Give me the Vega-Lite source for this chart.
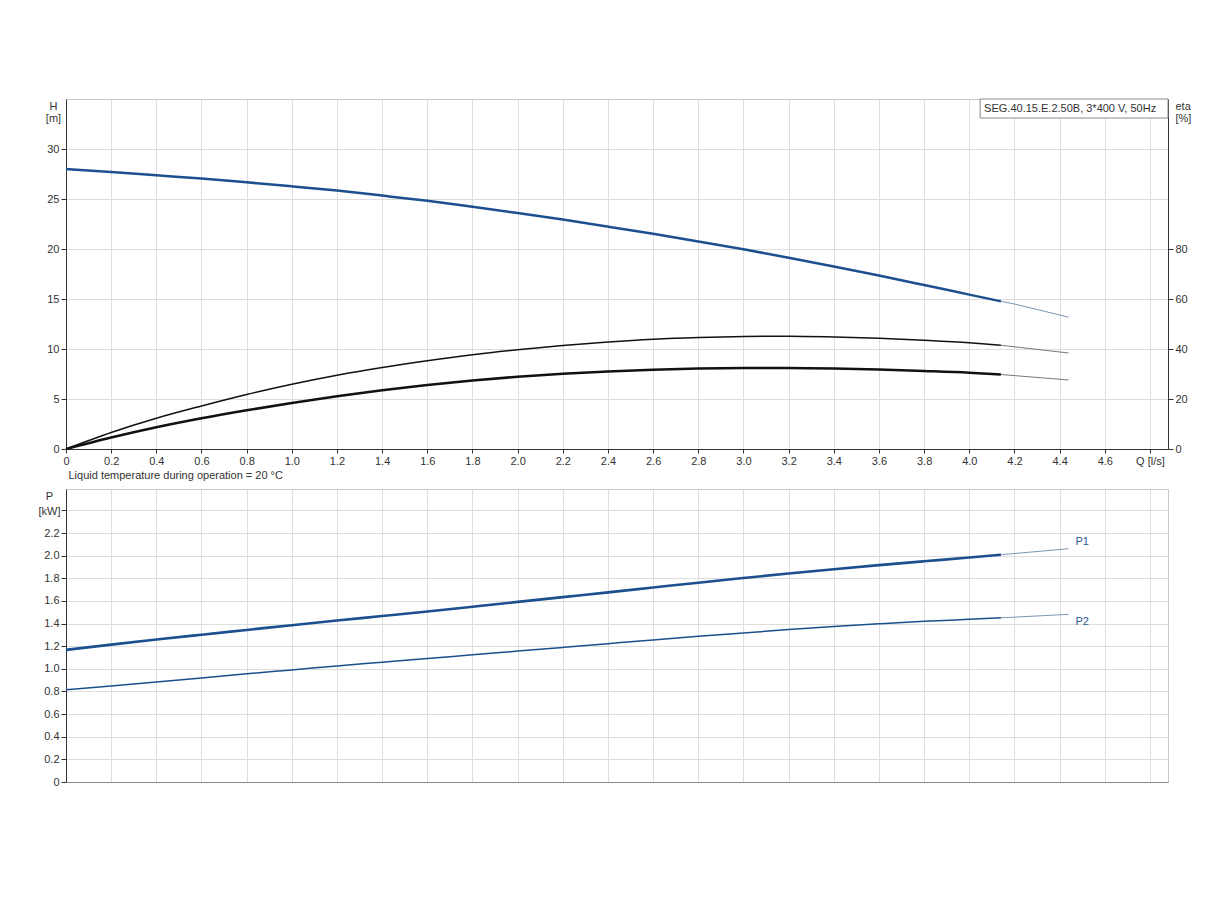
{
  "$schema": "https://vega.github.io/schema/vega-lite/v6.json",
  "background": "white",
  "padding": {"left": 37, "top": 98, "right": 10, "bottom": 10},
  "config": {
    "font": "Liberation Sans",
    "view": {"stroke": "#c8c8c8", "strokeWidth": 1},
    "axis": {
      "labelFont": "Liberation Sans", "labelFontSize": 11, "labelColor": "#333",
      "titleFont": "Liberation Sans", "titleFontSize": 11, "titleFontWeight": "normal", "titleColor": "#333",
      "gridColor": "#dedede", "gridWidth": 1, "tickColor": "#333", "domainColor": "#333",
      "tickSize": 5, "labelPadding": 2
    }
  },
  "datasets": {
    "head": [
      {"Q": 0, "H": 28.0, "part": "op"}, {"Q": 0.2, "H": 27.7, "part": "op"}, {"Q": 0.4, "H": 27.37, "part": "op"},
      {"Q": 0.6, "H": 27.04, "part": "op"}, {"Q": 0.8, "H": 26.67, "part": "op"}, {"Q": 1.0, "H": 26.27, "part": "op"},
      {"Q": 1.2, "H": 25.84, "part": "op"}, {"Q": 1.4, "H": 25.34, "part": "op"}, {"Q": 1.6, "H": 24.82, "part": "op"},
      {"Q": 1.8, "H": 24.22, "part": "op"}, {"Q": 2.0, "H": 23.6, "part": "op"}, {"Q": 2.2, "H": 22.94, "part": "op"},
      {"Q": 2.4, "H": 22.24, "part": "op"}, {"Q": 2.6, "H": 21.52, "part": "op"}, {"Q": 2.8, "H": 20.76, "part": "op"},
      {"Q": 3.0, "H": 19.97, "part": "op"}, {"Q": 3.2, "H": 19.13, "part": "op"}, {"Q": 3.4, "H": 18.26, "part": "op"},
      {"Q": 3.6, "H": 17.35, "part": "op"}, {"Q": 3.8, "H": 16.4, "part": "op"}, {"Q": 4.0, "H": 15.44, "part": "op"},
      {"Q": 4.14, "H": 14.77, "part": "op"},
      {"Q": 4.14, "H": 14.77, "part": "ext"}, {"Q": 4.2, "H": 14.5, "part": "ext"}, {"Q": 4.44, "H": 13.18, "part": "ext"}
    ],
    "eta": [
      {"Q": 0, "eta": 0, "curve": "eta1", "part": "op"}, {"Q": 0.2, "eta": 6.6, "curve": "eta1", "part": "op"},
      {"Q": 0.4, "eta": 12.3, "curve": "eta1", "part": "op"}, {"Q": 0.6, "eta": 17.2, "curve": "eta1", "part": "op"},
      {"Q": 0.8, "eta": 21.8, "curve": "eta1", "part": "op"}, {"Q": 1.0, "eta": 25.9, "curve": "eta1", "part": "op"},
      {"Q": 1.2, "eta": 29.5, "curve": "eta1", "part": "op"}, {"Q": 1.4, "eta": 32.6, "curve": "eta1", "part": "op"},
      {"Q": 1.6, "eta": 35.3, "curve": "eta1", "part": "op"}, {"Q": 1.8, "eta": 37.7, "curve": "eta1", "part": "op"},
      {"Q": 2.0, "eta": 39.7, "curve": "eta1", "part": "op"}, {"Q": 2.2, "eta": 41.4, "curve": "eta1", "part": "op"},
      {"Q": 2.4, "eta": 42.8, "curve": "eta1", "part": "op"}, {"Q": 2.6, "eta": 43.9, "curve": "eta1", "part": "op"},
      {"Q": 2.8, "eta": 44.6, "curve": "eta1", "part": "op"}, {"Q": 3.0, "eta": 45.0, "curve": "eta1", "part": "op"},
      {"Q": 3.2, "eta": 45.1, "curve": "eta1", "part": "op"}, {"Q": 3.4, "eta": 44.8, "curve": "eta1", "part": "op"},
      {"Q": 3.6, "eta": 44.3, "curve": "eta1", "part": "op"}, {"Q": 3.8, "eta": 43.5, "curve": "eta1", "part": "op"},
      {"Q": 4.0, "eta": 42.5, "curve": "eta1", "part": "op"}, {"Q": 4.14, "eta": 41.5, "curve": "eta1", "part": "op"},
      {"Q": 4.14, "eta": 41.5, "curve": "eta1", "part": "ext"}, {"Q": 4.44, "eta": 38.4, "curve": "eta1", "part": "ext"},
      {"Q": 0, "eta": 0, "curve": "eta2", "part": "op"}, {"Q": 0.2, "eta": 4.6, "curve": "eta2", "part": "op"},
      {"Q": 0.4, "eta": 8.7, "curve": "eta2", "part": "op"}, {"Q": 0.6, "eta": 12.3, "curve": "eta2", "part": "op"},
      {"Q": 0.8, "eta": 15.5, "curve": "eta2", "part": "op"}, {"Q": 1.0, "eta": 18.4, "curve": "eta2", "part": "op"},
      {"Q": 1.2, "eta": 21.1, "curve": "eta2", "part": "op"}, {"Q": 1.4, "eta": 23.5, "curve": "eta2", "part": "op"},
      {"Q": 1.6, "eta": 25.6, "curve": "eta2", "part": "op"}, {"Q": 1.8, "eta": 27.4, "curve": "eta2", "part": "op"},
      {"Q": 2.0, "eta": 28.9, "curve": "eta2", "part": "op"}, {"Q": 2.2, "eta": 30.1, "curve": "eta2", "part": "op"},
      {"Q": 2.4, "eta": 31.0, "curve": "eta2", "part": "op"}, {"Q": 2.6, "eta": 31.7, "curve": "eta2", "part": "op"},
      {"Q": 2.8, "eta": 32.2, "curve": "eta2", "part": "op"}, {"Q": 3.0, "eta": 32.4, "curve": "eta2", "part": "op"},
      {"Q": 3.2, "eta": 32.4, "curve": "eta2", "part": "op"}, {"Q": 3.4, "eta": 32.2, "curve": "eta2", "part": "op"},
      {"Q": 3.6, "eta": 31.8, "curve": "eta2", "part": "op"}, {"Q": 3.8, "eta": 31.2, "curve": "eta2", "part": "op"},
      {"Q": 4.0, "eta": 30.5, "curve": "eta2", "part": "op"}, {"Q": 4.14, "eta": 29.8, "curve": "eta2", "part": "op"},
      {"Q": 4.14, "eta": 29.8, "curve": "eta2", "part": "ext"}, {"Q": 4.44, "eta": 27.6, "curve": "eta2", "part": "ext"}
    ],
    "power": [
      {"Q": 0, "P": 1.168, "curve": "P1", "part": "op"}, {"Q": 0.2, "P": 1.214, "curve": "P1", "part": "op"},
      {"Q": 0.4, "P": 1.259, "curve": "P1", "part": "op"}, {"Q": 0.6, "P": 1.302, "curve": "P1", "part": "op"},
      {"Q": 0.8, "P": 1.344, "curve": "P1", "part": "op"}, {"Q": 1.0, "P": 1.386, "curve": "P1", "part": "op"},
      {"Q": 1.2, "P": 1.427, "curve": "P1", "part": "op"}, {"Q": 1.4, "P": 1.467, "curve": "P1", "part": "op"},
      {"Q": 1.6, "P": 1.507, "curve": "P1", "part": "op"}, {"Q": 1.8, "P": 1.549, "curve": "P1", "part": "op"},
      {"Q": 2.0, "P": 1.592, "curve": "P1", "part": "op"}, {"Q": 2.2, "P": 1.634, "curve": "P1", "part": "op"},
      {"Q": 2.4, "P": 1.676, "curve": "P1", "part": "op"}, {"Q": 2.6, "P": 1.719, "curve": "P1", "part": "op"},
      {"Q": 2.8, "P": 1.762, "curve": "P1", "part": "op"}, {"Q": 3.0, "P": 1.803, "curve": "P1", "part": "op"},
      {"Q": 3.2, "P": 1.843, "curve": "P1", "part": "op"}, {"Q": 3.4, "P": 1.881, "curve": "P1", "part": "op"},
      {"Q": 3.6, "P": 1.917, "curve": "P1", "part": "op"}, {"Q": 3.8, "P": 1.951, "curve": "P1", "part": "op"},
      {"Q": 4.0, "P": 1.984, "curve": "P1", "part": "op"}, {"Q": 4.14, "P": 2.009, "curve": "P1", "part": "op"},
      {"Q": 4.14, "P": 2.009, "curve": "P1", "part": "ext"}, {"Q": 4.44, "P": 2.062, "curve": "P1", "part": "ext"},
      {"Q": 0, "P": 0.815, "curve": "P2", "part": "op"}, {"Q": 0.2, "P": 0.848, "curve": "P2", "part": "op"},
      {"Q": 0.4, "P": 0.883, "curve": "P2", "part": "op"}, {"Q": 0.6, "P": 0.92, "curve": "P2", "part": "op"},
      {"Q": 0.8, "P": 0.956, "curve": "P2", "part": "op"}, {"Q": 1.0, "P": 0.991, "curve": "P2", "part": "op"},
      {"Q": 1.2, "P": 1.026, "curve": "P2", "part": "op"}, {"Q": 1.4, "P": 1.059, "curve": "P2", "part": "op"},
      {"Q": 1.6, "P": 1.092, "curve": "P2", "part": "op"}, {"Q": 1.8, "P": 1.124, "curve": "P2", "part": "op"},
      {"Q": 2.0, "P": 1.157, "curve": "P2", "part": "op"}, {"Q": 2.2, "P": 1.19, "curve": "P2", "part": "op"},
      {"Q": 2.4, "P": 1.223, "curve": "P2", "part": "op"}, {"Q": 2.6, "P": 1.256, "curve": "P2", "part": "op"},
      {"Q": 2.8, "P": 1.288, "curve": "P2", "part": "op"}, {"Q": 3.0, "P": 1.318, "curve": "P2", "part": "op"},
      {"Q": 3.2, "P": 1.347, "curve": "P2", "part": "op"}, {"Q": 3.4, "P": 1.374, "curve": "P2", "part": "op"},
      {"Q": 3.6, "P": 1.398, "curve": "P2", "part": "op"}, {"Q": 3.8, "P": 1.42, "curve": "P2", "part": "op"},
      {"Q": 4.0, "P": 1.438, "curve": "P2", "part": "op"}, {"Q": 4.14, "P": 1.451, "curve": "P2", "part": "op"},
      {"Q": 4.14, "P": 1.451, "curve": "P2", "part": "ext"}, {"Q": 4.44, "P": 1.482, "curve": "P2", "part": "ext"}
    ],
    "plabels": [
      {"Q": 4.47, "P": 2.124, "label": "P1"},
      {"Q": 4.47, "P": 1.418, "label": "P2"}
    ],
    "legendbox": [
      {"Q": 4.048, "Q2": 4.88, "H": 35, "H2": 33.1, "Htext": 34.05, "label": "SEG.40.15.E.2.50B, 3*400 V, 50Hz"}
    ]
  },
  "spacing": 40,
  "bounds": "flush",
  "vconcat": [
    {
      "width": 1102,
      "height": 350,
      "encoding": {
        "x": {
          "field": "Q", "type": "quantitative",
          "scale": {"domain": [0, 4.88], "nice": false, "zero": false},
          "axis": {
            "values": [0, 0.2, 0.4, 0.6, 0.8, 1.0, 1.2, 1.4, 1.6, 1.8, 2.0, 2.2, 2.4, 2.6, 2.8, 3.0, 3.2, 3.4, 3.6, 3.8, 4.0, 4.2, 4.4, 4.6, 4.8],
            "labelExpr": "datum.value == 0 ? '0' : (datum.value > 4.7 ? 'Q [l/s]' : format(datum.value, '.1f'))",
            "tickSize": 4,
            "labelFlush": false,
            "labelOverlap": false,
            "grid": true,
            "title": "Liquid temperature during operation = 20 °C",
            "titleAnchor": "start", "titleAlign": "left", "titleBaseline": "top",
            "titleX": 2, "titleY": 20
          }
        }
      },
      "layer": [
        {
          "encoding": {
            "y": {
              "field": "H", "type": "quantitative",
              "scale": {"domain": [0, 35], "nice": false},
              "axis": {
                "orient": "left",
                "values": [0, 5, 10, 15, 20, 25, 30],
                "grid": true,
                "title": ["H", "[m]"],
                "titleAngle": 0, "titleAlign": "center", "titleBaseline": "top",
                "titleX": -13, "titleY": 1, "titleLineHeight": 12
              }
            }
          },
          "layer": [
            {
              "data": {"name": "head"},
              "transform": [{"filter": "datum.part == 'op'"}],
              "mark": {"type": "line", "color": "#1c4f8e", "strokeWidth": 2.5, "interpolate": "monotone"}
            },
            {
              "data": {"name": "head"},
              "transform": [{"filter": "datum.part == 'ext'"}],
              "mark": {"type": "line", "color": "#5a7aa0", "strokeWidth": 0.8}
            },
            {
              "data": {"name": "legendbox"},
              "mark": {"type": "rect", "fill": "white", "stroke": "#8a8a8a", "strokeWidth": 1},
              "encoding": {"x2": {"field": "Q2"}, "y2": {"field": "H2"}}
            },
            {
              "data": {"name": "legendbox"},
              "mark": {"type": "text", "align": "left", "baseline": "middle", "dx": 4, "fontSize": 11, "color": "#333", "font": "Liberation Sans"},
              "encoding": {"y": {"field": "Htext", "type": "quantitative"}, "text": {"field": "label"}}
            }
          ]
        },
        {
          "encoding": {
            "y": {
              "field": "eta", "type": "quantitative",
              "scale": {"domain": [0, 140], "nice": false},
              "axis": {
                "orient": "right",
                "values": [0, 20, 40, 60, 80],
                "grid": false,
                "title": ["eta", "[%]"],
                "titleAngle": 0, "titleAlign": "left", "titleBaseline": "top",
                "titleX": 7, "titleY": 1, "titleLineHeight": 12
              }
            }
          },
          "layer": [
            {
              "data": {"name": "eta"},
              "transform": [{"filter": "datum.part == 'op' && datum.curve == 'eta1'"}],
              "mark": {"type": "line", "color": "#111", "strokeWidth": 1.5, "interpolate": "monotone"}
            },
            {
              "data": {"name": "eta"},
              "transform": [{"filter": "datum.part == 'op' && datum.curve == 'eta2'"}],
              "mark": {"type": "line", "color": "#111", "strokeWidth": 2.6, "interpolate": "monotone"}
            },
            {
              "data": {"name": "eta"},
              "transform": [{"filter": "datum.part == 'ext'"}],
              "mark": {"type": "line", "color": "#555", "strokeWidth": 0.8},
              "encoding": {"detail": {"field": "curve"}}
            }
          ]
        }
      ],
      "resolve": {"scale": {"y": "independent"}, "axis": {"y": "independent"}}
    },
    {
      "width": 1102,
      "height": 293,
      "encoding": {
        "x": {
          "field": "Q", "type": "quantitative",
          "scale": {"domain": [0, 4.88], "nice": false, "zero": false},
          "axis": {
            "values": [0, 0.2, 0.4, 0.6, 0.8, 1.0, 1.2, 1.4, 1.6, 1.8, 2.0, 2.2, 2.4, 2.6, 2.8, 3.0, 3.2, 3.4, 3.6, 3.8, 4.0, 4.2, 4.4, 4.6, 4.8],
            "labels": false, "ticks": false, "grid": true, "title": null,
            "domainColor": "#8a8a8a"
          }
        },
        "y": {
          "field": "P", "type": "quantitative",
          "scale": {"domain": [0, 2.59], "nice": false},
          "axis": {
            "values": [0, 0.2, 0.4, 0.6, 0.8, 1.0, 1.2, 1.4, 1.6, 1.8, 2.0, 2.2, 2.4],
            "labelExpr": "datum.value == 0 ? '0' : (datum.value > 2.3 ? '' : format(datum.value, '.1f'))",
            "grid": true,
            "title": ["P", "[kW]"],
            "titleAngle": 0, "titleAlign": "center", "titleBaseline": "top",
            "titleX": -17, "titleY": 1, "titleLineHeight": 15
          }
        }
      },
      "layer": [
        {
          "data": {"name": "power"},
          "transform": [{"filter": "datum.part == 'op' && datum.curve == 'P1'"}],
          "mark": {"type": "line", "color": "#1c4f8e", "strokeWidth": 2.6, "interpolate": "monotone"}
        },
        {
          "data": {"name": "power"},
          "transform": [{"filter": "datum.part == 'op' && datum.curve == 'P2'"}],
          "mark": {"type": "line", "color": "#1c4f8e", "strokeWidth": 1.5, "interpolate": "monotone"}
        },
        {
          "data": {"name": "power"},
          "transform": [{"filter": "datum.part == 'ext'"}],
          "mark": {"type": "line", "color": "#5a7aa0", "strokeWidth": 0.8},
          "encoding": {"detail": {"field": "curve"}}
        },
        {
          "data": {"name": "plabels"},
          "mark": {"type": "text", "align": "left", "baseline": "middle", "fontSize": 11, "color": "#2a5a96", "font": "Liberation Sans"},
          "encoding": {"text": {"field": "label"}}
        }
      ]
    }
  ]
}
